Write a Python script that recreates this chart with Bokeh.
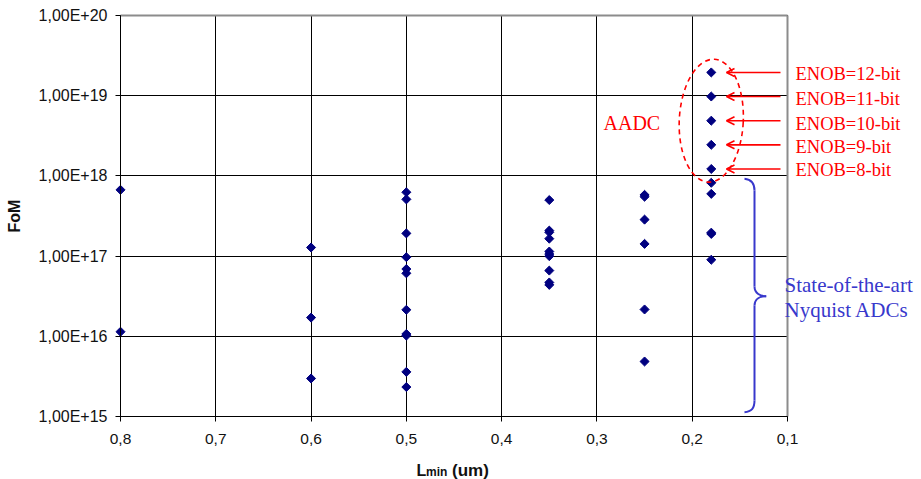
import math
from bokeh.plotting import figure
from bokeh.models import (Range1d, FixedTicker, CustomJSTickFormatter, Label,
                          Arrow, OpenHead, ColumnDataSource)
from bokeh.embed import file_html
from bokeh.resources import INLINE

# ---------------- data ----------------
nyq_lmin = [0.8, 0.8,
            0.6, 0.6, 0.6,
            0.5, 0.5, 0.5, 0.5, 0.5, 0.5, 0.5, 0.5, 0.5, 0.5, 0.5,
            0.35, 0.35, 0.35, 0.35, 0.35, 0.35, 0.35, 0.35, 0.35, 0.35,
            0.25, 0.25, 0.25, 0.25, 0.25, 0.25,
            0.18, 0.18, 0.18, 0.18, 0.18]
nyq_fom = [6.7e17, 1.14e16,
           1.28e17, 1.71e16, 2.98e15,
           6.25e17, 5.1e17, 1.92e17, 9.7e16, 6.9e16, 6.1e16, 2.14e16, 1.07e16, 1.02e16, 3.6e15, 2.33e15,
           5.0e17, 2.08e17, 1.98e17, 1.65e17, 1.14e17, 1.06e17, 1.0e17, 6.6e16, 4.69e16, 4.38e16,
           5.8e17, 5.5e17, 2.85e17, 1.42e17, 2.16e16, 4.85e15,
           8.2e17, 5.97e17, 1.96e17, 1.89e17, 9.0e16]

aadc_lmin = [0.18, 0.18, 0.18, 0.18, 0.18]
aadc_fom = [1.95e19, 9.77e18, 4.88e18, 2.44e18, 1.22e18]
enob_labels = ["ENOB=12-bit", "ENOB=11-bit", "ENOB=10-bit", "ENOB=9-bit", "ENOB=8-bit"]

x_ticks = [0.8, 0.7, 0.6, 0.5, 0.4, 0.3, 0.2, 0.1]
x_tick_labels = ["0,8", "0,7", "0,6", "0,5", "0,4", "0,3", "0,2", "0,1"]
y_ticks = [1e15, 1e16, 1e17, 1e18, 1e19, 1e20]
y_tick_labels = ["1,00E+15", "1,00E+16", "1,00E+17", "1,00E+18", "1,00E+19", "1,00E+20"]

# ---------------- layout (canvas pixels) ----------------
W, H = 921, 479
FX0, FX1, FY0, FY1 = 120, 787, 15, 416      # data area of the chart
XMAX, XMIN = 0.8, 0.1
LOG_TOP, LOG_BOT = 20, 15
PX_PER_X = (FX1 - FX0) / (XMAX - XMIN)
PX_PER_DEC = (FY1 - FY0) / (LOG_TOP - LOG_BOT)

# the frame covers the whole canvas so that no text is clipped; the axes sit
# at fixed locations around the chart area
x_start = XMAX + FX0 / PX_PER_X
x_end = XMIN - (W - FX1) / PX_PER_X
y_start = 10 ** (LOG_BOT - (H - FY1) / PX_PER_DEC)
y_end = 10 ** (LOG_TOP + FY0 / PX_PER_DEC)


def px2x(px):
    return XMAX - (px - FX0) / PX_PER_X


def px2y(py):
    return 10 ** (LOG_TOP - (py - FY0) / PX_PER_DEC)


def sx(px):  # screen x relative to frame left
    return px


def sy(py):  # screen y relative to frame bottom
    return H - py


p = figure(width=W, height=H,
           x_range=Range1d(x_start, x_end), y_range=Range1d(y_start, y_end),
           y_axis_type="log", output_backend="svg", toolbar_location=None,
           min_border=0, min_border_left=0, min_border_right=0,
           min_border_top=0, min_border_bottom=0)

p.background_fill_color = "white"
p.border_fill_color = "white"
p.outline_line_color = None

# axes
p.xaxis.ticker = FixedTicker(ticks=x_ticks)
p.xaxis.formatter = CustomJSTickFormatter(
    args=dict(tv=x_ticks, tl=x_tick_labels),
    code="for (let i = 0; i < tv.length; i++) { if (Math.abs(tick - tv[i]) < 1e-9) return tl[i]; } return '';")
p.yaxis.ticker = FixedTicker(ticks=y_ticks)
p.yaxis.formatter = CustomJSTickFormatter(
    args=dict(tv=y_ticks, tl=y_tick_labels),
    code="for (let i = 0; i < tv.length; i++) { if (Math.abs(Math.log10(tick) - Math.log10(tv[i])) < 1e-6) return tl[i]; } return '';")
p.xaxis.bounds = (XMIN, XMAX)
p.xaxis.fixed_location = 10 ** LOG_BOT
p.yaxis.bounds = (10 ** LOG_BOT, 10 ** LOG_TOP)
p.yaxis.fixed_location = XMAX

for ax in (p.xaxis[0], p.yaxis[0]):
    ax.axis_line_color = "black"
    ax.axis_line_width = 1
    ax.major_tick_line_color = "black"
    ax.major_tick_out = 5
    ax.major_tick_in = 0
    ax.minor_tick_out = 0
    ax.minor_tick_in = 0
    ax.major_label_text_font = "Liberation Sans"
    ax.major_label_text_color = "#111111"
p.yaxis.major_label_text_font_size = "16px"
p.xaxis.major_label_text_font_size = "15.5px"
p.yaxis.major_label_standoff = 8
p.xaxis.major_label_standoff = 12

p.yaxis.axis_label = "FoM"
p.yaxis.axis_label_text_font = "Liberation Sans"
p.yaxis.axis_label_text_font_style = "bold"
p.yaxis.axis_label_text_font_size = "16px"
p.yaxis.axis_label_text_color = "#111111"
p.yaxis.axis_label_standoff = 13

# grid limited to the chart area
p.grid.grid_line_color = "black"
p.grid.grid_line_width = 1
p.grid.grid_line_alpha = 1.0
grid_ok = True
try:
    p.xgrid.cross_bounds = (10 ** LOG_BOT, 10 ** LOG_TOP)
    p.ygrid.cross_bounds = (XMIN, XMAX)
    p.xgrid.bounds = (XMIN, XMAX)
    p.ygrid.bounds = (10 ** LOG_BOT, 10 ** LOG_TOP)
except Exception:
    grid_ok = False
if not grid_ok:
    p.grid.visible = False
    p.segment(x0=x_ticks, x1=x_ticks, y0=[10 ** LOG_BOT] * len(x_ticks),
              y1=[10 ** LOG_TOP] * len(x_ticks), line_color="black", line_width=1)
    p.segment(x0=[XMAX] * len(y_ticks), x1=[XMIN] * len(y_ticks), y0=y_ticks,
              y1=y_ticks, line_color="black", line_width=1)

# gray chart border on top and right
p.segment(x0=[XMAX, XMIN], y0=[10 ** LOG_TOP, 10 ** LOG_BOT],
          x1=[XMIN, XMIN], y1=[10 ** LOG_TOP, 10 ** LOG_TOP],
          line_color="#8c8c8c", line_width=2)

# x axis title (L with subscript "min")
for txt, xx, yy, fs in (("L", 416, 470, "16px"), ("min", 425.5, 471, "12px"), ("(um)", 451.5, 470, "17px")):
    p.add_layout(Label(x=sx(xx), y=sy(yy), x_units="screen", y_units="screen",
                       text=txt, text_align="left", text_baseline="alphabetic",
                       text_font="Liberation Sans", text_font_style="bold", text_font_size=fs,
                       text_color="#111111"))

# data points
src_n = ColumnDataSource(dict(x=nyq_lmin, y=nyq_fom))
src_a = ColumnDataSource(dict(x=aadc_lmin, y=aadc_fom))
for src in (src_n, src_a):
    p.scatter("x", "y", source=src, marker="square", angle=math.pi / 4, size=6.4,
              fill_color="#000080", line_color="#000080")

# AADC dashed ellipse
ymid = math.sqrt(min(aadc_fom) * max(aadc_fom))
p.ellipse(x=[aadc_lmin[0]], y=[ymid], width=64, height=123,
          width_units="screen", height_units="screen", angle=-0.05,
          fill_alpha=0, line_color="red", line_width=1.6, line_dash="5 4")

p.add_layout(Label(x=sx(603), y=sy(122.5), x_units="screen", y_units="screen",
                   text="AADC", text_align="left", text_baseline="middle",
                   text_font="Liberation Serif", text_font_size="20px", text_color="red"))

# ENOB arrows + labels
enob_label_y = [73, 98, 123.7, 146.3, 169]
for f, lab, ly in zip(aadc_fom, enob_labels, enob_label_y):
    p.add_layout(Arrow(x_start=px2x(780), x_end=px2x(726), y_start=f, y_end=f,
                       line_color="red", line_width=1.6,
                       end=OpenHead(size=8, line_color="red", line_width=1.6)))
    p.add_layout(Label(x=sx(795), y=sy(ly), x_units="screen", y_units="screen",
                       text=lab, text_align="left", text_baseline="middle",
                       text_font="Liberation Serif", text_font_size="18.5px", text_color="red"))

# blue brace for state-of-the-art Nyquist ADCs
BC = "#3838cc"
p.segment(x0=[px2x(754), px2x(754)], y0=[px2y(190), px2y(305)],
          x1=[px2x(754), px2x(754)], y1=[px2y(286), px2y(400)],
          line_color=BC, line_width=2)
bz = dict(
    x0=[px2x(744), px2x(754), px2x(765.7), px2x(754)],
    y0=[px2y(178.3), px2y(286), px2y(295.7), px2y(400)],
    x1=[px2x(754), px2x(765.7), px2x(754), px2x(744)],
    y1=[px2y(190), px2y(295.7), px2y(305), px2y(411.7)],
    cx0=[px2x(751), px2x(754), px2x(760), px2x(754)],
    cy0=[px2y(179), px2y(293), px2y(295.7), px2y(408)],
    cx1=[px2x(754), px2x(760), px2x(754), px2x(751)],
    cy1=[px2y(183), px2y(295.7), px2y(298), px2y(411)],
)
p.bezier(source=ColumnDataSource(bz), x0="x0", y0="y0", x1="x1", y1="y1",
         cx0="cx0", cy0="cy0", cx1="cx1", cy1="cy1", line_color=BC, line_width=2)

p.add_layout(Label(x=sx(784), y=sy(284), x_units="screen", y_units="screen",
                   text="State-of-the-art", text_align="left", text_baseline="middle",
                   text_font="Liberation Serif", text_font_size="21px", text_color=BC))
p.add_layout(Label(x=sx(784), y=sy(309), x_units="screen", y_units="screen",
                   text="Nyquist ADCs", text_align="left", text_baseline="middle",
                   text_font="Liberation Serif", text_font_size="21px", text_color=BC))

open("out.html", "w").write(file_html(p, INLINE))
